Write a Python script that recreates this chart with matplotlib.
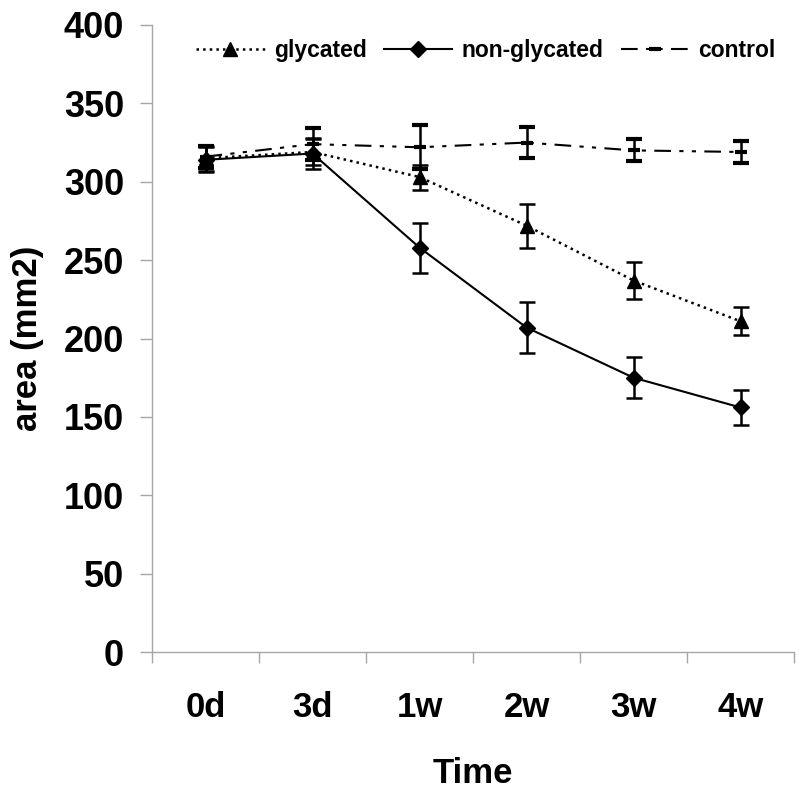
import matplotlib
matplotlib.use("Agg")
import matplotlib.pyplot as plt

plt.rcParams['font.family'] = ['Liberation Sans', 'DejaVu Sans']
plt.rcParams['font.weight'] = 'bold'

# data
times = ["0d", "3d", "1w", "2w", "3w", "4w"]
glycated = [315, 319, 303, 272, 237, 211]
glycated_err = [8, 8, 8, 14, 12, 9]
nonglycated = [314, 318, 258, 207, 175, 156]
nonglycated_err = [8, 10, 16, 16, 13, 11]
control = [316, 324, 322, 325, 320, 319]
control_err = [7, 10, 14, 10, 7, 7]

fig = plt.figure(figsize=(8, 7.91), dpi=100)
ax = fig.add_axes([0.19, 0.1757, 0.8025, 0.7927])

x = list(range(len(times)))
grey = '#a6a6a6'

ax.errorbar(x, glycated, yerr=glycated_err, color='black', ls=':', lw=1.8,
            marker='^', ms=10, capsize=5.5, elinewidth=1.8, capthick=1.8,
            label='glycated')
ax.errorbar(x, nonglycated, yerr=nonglycated_err, color='black', ls='-', lw=1.5,
            marker='D', ms=8, capsize=5.5, elinewidth=1.8, capthick=1.8,
            label='non-glycated')
ax.errorbar(x, control, yerr=control_err, color='black', ls=(0, (8, 4, 2, 4, 2, 4)),
            lw=1.5, marker='_', ms=8, mew=3, capsize=5.5, elinewidth=1.8,
            capthick=1.8, label='control')

ax.set_xlim(-0.5, 5.5)
ax.set_ylim(0, 400)
ax.set_yticks(range(0, 401, 50))
ax.set_xticks([i - 0.5 for i in range(7)], labels=[''] * 7)
ax.set_xticks(x, labels=times, minor=True)
ax.tick_params(axis='x', which='major', length=8, color=grey, width=1)
ax.tick_params(axis='x', which='minor', length=0, pad=28, labelsize=25)
ax.tick_params(axis='y', length=9, color=grey, width=1, pad=11, labelsize=26)

for side in ['top', 'right']:
    ax.spines[side].set_visible(False)
for side in ['left', 'bottom']:
    ax.spines[side].set_color(grey)
    ax.spines[side].set_linewidth(1)

ax.set_xlabel('Time', fontsize=25, fontweight='bold', labelpad=24)
ax.set_ylabel('area (mm2)', fontsize=25, fontweight='bold', labelpad=14)

handles, labels = ax.get_legend_handles_labels()
handles = [h[0] for h in handles]
ax.legend(handles, labels, loc='upper center', bbox_to_anchor=(0.52, 1.01),
          ncol=3, frameon=False, handlelength=3.0,
          handletextpad=0.4, columnspacing=0.75, prop={'weight': 'bold', 'size': 16.5})

fig.savefig('out.png', dpi=100)
